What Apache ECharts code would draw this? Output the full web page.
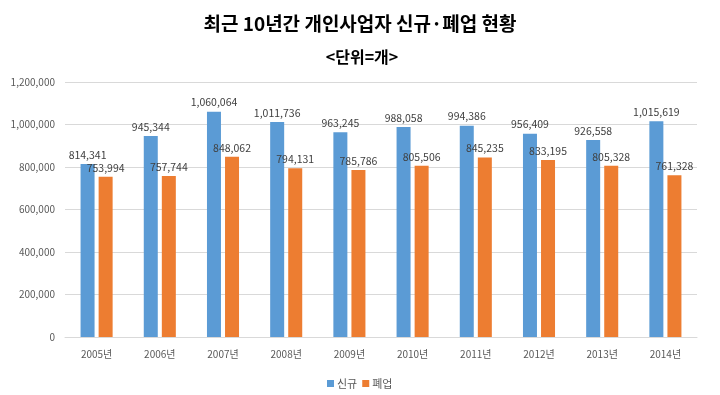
<!DOCTYPE html>
<html><head><meta charset="utf-8">
<script src="https://cdn.jsdelivr.net/npm/echarts@6/dist/echarts.min.js"></script>
<style>html,body{margin:0;padding:0;background:#fff}#c{width:720px;height:395px}</style>
</head><body><div id="c"></div>
<script>
const categories = ['2005년','2006년','2007년','2008년','2009년','2010년','2011년','2012년','2013년','2014년'];
const newBiz = [814341,945344,1060064,1011736,963245,988058,994386,956409,926558,1015619];
const closedBiz = [753994,757744,848062,794131,785786,805506,845235,833195,805328,761328];
const seriesNames = ['신규','폐업'];
const font = '"Noto Sans CJK KR", "Noto Sans", sans-serif';
const chart = echarts.init(document.getElementById('c'));
const fmt = v => v.toLocaleString('en-US');
chart.setOption({
  animation:false,
  title:[
    {text:'최근 10년간 개인사업자 신규·폐업 현황', left:355, textAlign:'center', top:9, textStyle:{fontFamily:font,fontSize:19,fontWeight:'bold',color:'#000'}},
    {text:'<단위=개>', left:357, textAlign:'center', top:44, textStyle:{fontFamily:font,fontSize:16,fontWeight:'bold',color:'#000'}}
  ],
  legend:{top:373, left:322, itemWidth:7, itemHeight:7, itemGap:5, icon:'rect', textStyle:{fontFamily:font,fontSize:11,color:'#595959',padding:[0,0,0,-2]}, data:seriesNames},
  grid:{left:65,right:23,top:82,bottom:58},
  xAxis:{type:'category',data:categories,axisLine:{lineStyle:{color:'#D9D9D9'}},axisTick:{show:false},
    axisLabel:{fontFamily:font,fontSize:10,color:'#595959',margin:12}},
  yAxis:{type:'value',min:0,max:1200000,interval:200000,axisLine:{show:false},axisTick:{show:false},
    splitLine:{lineStyle:{color:'#D9D9D9'}},
    axisLabel:{fontFamily:font,fontSize:10,color:'#595959',margin:10,formatter:fmt}},
  series:[
    {name:seriesNames[0],type:'bar',data:newBiz,barWidth:14,barGap:'29%',itemStyle:{color:'#5B9BD5'},
     label:{show:true,position:'top',distance:4,fontFamily:font,fontSize:10.5,color:'#404040',formatter:p=>fmt(p.value)}},
    {name:seriesNames[1],type:'bar',data:closedBiz,barWidth:14,itemStyle:{color:'#ED7D31'},
     label:{show:true,position:'top',distance:4,fontFamily:font,fontSize:10.5,color:'#404040',formatter:p=>fmt(p.value)}}
  ]
});
</script></body></html>
